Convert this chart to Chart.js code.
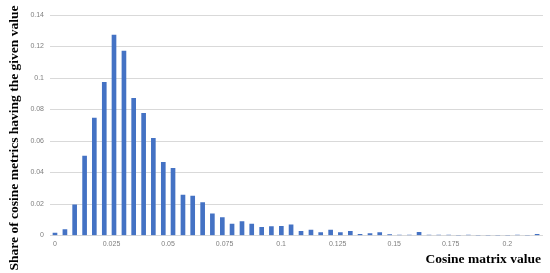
<!DOCTYPE html>
<html>
<head>
<meta charset="utf-8">
<script src="https://cdn.jsdelivr.net/npm/chart.js@4.4.1/dist/chart.umd.min.js"></script>
<style>
  html, body { margin: 0; padding: 0; background: #fff; }
  #wrap { width: 550px; height: 273px; }
</style>
</head>
<body>
<div id="wrap"><canvas id="hist" width="550" height="273"></canvas></div>
<script>
// bin centres (cosine matrix value)
const binCenters = [
  0, 0.0044, 0.0087, 0.0131, 0.0174, 0.0218, 0.0261, 0.0305, 0.0348, 0.0392,
  0.0435, 0.0479, 0.0522, 0.0566, 0.0609, 0.0653, 0.0696, 0.0740, 0.0783, 0.0827,
  0.0870, 0.0914, 0.0957, 0.1001, 0.1044, 0.1088, 0.1132, 0.1175, 0.1219, 0.1262,
  0.1306, 0.1349, 0.1393, 0.1436, 0.1480, 0.1523, 0.1567, 0.1610, 0.1654, 0.1697,
  0.1741, 0.1784, 0.1828, 0.1871, 0.1915, 0.1958, 0.2002, 0.2045, 0.2089, 0.2132
];

// share of cosine metrics in each bin
const shares = [
  0.0015, 0.0037, 0.0195, 0.0505, 0.0745, 0.0973, 0.1273, 0.1171, 0.0871, 0.0776,
  0.0617, 0.0465, 0.0427, 0.0257, 0.0251, 0.0209, 0.0137, 0.0113, 0.0073, 0.0088,
  0.0073, 0.0052, 0.0057, 0.0058, 0.0067, 0.0026, 0.0035, 0.0019, 0.0035, 0.0019,
  0.0026, 0.0007, 0.0012, 0.0019, 0.0006, 0.0003, 0.0003, 0.0020, 0.0003, 0.0003,
  0.0003, 0, 0.0003, 0, 0, 0, 0, 0.0003, 0, 0.0008
];

const xTickValues = [0, 0.025, 0.05, 0.075, 0.1, 0.125, 0.15, 0.175, 0.2];
const yTickValues = [0, 0.02, 0.04, 0.06, 0.08, 0.1, 0.12, 0.14];

const xTitle = 'Cosine matrix value';
const yTitle = 'Share of cosine metrics having the given value';

const tickFont = { family: "'Liberation Sans', Arial, sans-serif", size: 7 };
const tickColor = '#7f7f7f';

// axis titles drawn by hand so they can sit where the original has them
const axisTitles = {
  id: 'axisTitles',
  afterDraw(chart) {
    const ctx = chart.ctx;
    const area = chart.chartArea;
    ctx.save();
    ctx.fillStyle = '#000';
    ctx.font = "bold 13.5px 'Liberation Serif', 'Times New Roman', serif";
    ctx.textAlign = 'right';
    ctx.textBaseline = 'alphabetic';
    ctx.fillText(xTitle, area.right - 2, 263);

    ctx.translate(15, 138);
    ctx.rotate(-Math.PI / 2);
    ctx.textAlign = 'center';
    ctx.textBaseline = 'middle';
    ctx.fillText(yTitle, 0, 0);
    ctx.restore();
  }
};

new Chart(document.getElementById('hist').getContext('2d'), {
  type: 'bar',
  data: {
    datasets: [{
      label: 'Share',
      data: binCenters.map((x, i) => ({ x, y: shares[i] })),
      backgroundColor: '#4472c4',
      borderWidth: 0,
      barThickness: 4
    }]
  },
  options: {
    responsive: false,
    animation: false,
    layout: { padding: { top: 15, right: 7, left: 0, bottom: 0 } },
    plugins: {
      legend: { display: false },
      tooltip: { enabled: false }
    },
    scales: {
      x: {
        type: 'linear',
        offset: false,
        min: -0.0022,
        max: 0.2158,
        grid: { display: false, drawTicks: false, offset: false },
        border: { display: false },
        afterBuildTicks: scale => { scale.ticks = xTickValues.map(v => ({ value: v })); },
        afterFit: scale => { scale.height = 37.5; },
        ticks: {
          color: tickColor,
          font: tickFont,
          padding: 4,
          maxRotation: 0,
          callback: v => String(+v.toFixed(3))
        }
      },
      y: {
        min: 0,
        max: 0.14,
        grid: { color: '#d9d9d9', lineWidth: 1, drawTicks: false },
        border: { display: false },
        afterBuildTicks: scale => { scale.ticks = yTickValues.map(v => ({ value: v })); },
        afterFit: scale => { scale.width = 50; },
        ticks: {
          color: tickColor,
          font: tickFont,
          padding: 6,
          callback: v => String(+v.toFixed(3))
        }
      }
    }
  },
  plugins: [axisTitles]
});
</script>
</body>
</html>
